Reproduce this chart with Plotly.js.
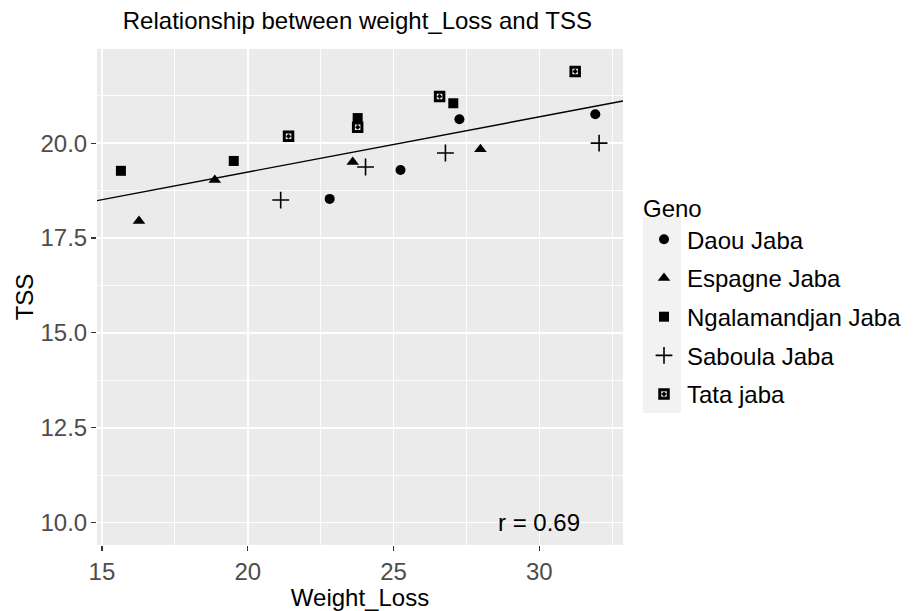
<!DOCTYPE html>
<html>
<head>
<meta charset="utf-8">
<script src="https://cdn.plot.ly/plotly-3.0.1.min.js"></script>
<style>
  html, body { margin: 0; padding: 0; background: #ffffff; }
  #chart { width: 917px; height: 611px; }
</style>
</head>
<body>
<div id="chart"></div>
<script>
// ---- data ----
const genoNames = ["Daou Jaba", "Espagne Jaba", "Ngalamandjan Jaba", "Saboula Jaba", "Tata jaba"];

const daouX = [22.81, 25.24, 27.26, 31.92];
const daouY = [18.53, 19.29, 20.63, 20.76];

const espagneX = [16.27, 18.87, 23.60, 27.98];
const espagneY = [17.95, 19.03, 19.50, 19.84];

const ngalaX = [15.65, 19.52, 23.77, 27.05];
const ngalaY = [19.27, 19.53, 20.66, 21.05];

const sabX = [21.13, 24.04, 26.78, 32.05];
const sabY = [18.50, 19.37, 19.74, 20.00];

const tataX = [21.40, 23.77, 26.58, 31.23];
const tataY = [20.18, 20.42, 21.23, 21.89];

const corrLabel = "r = 0.69";
const corrLabelX = 30;
const corrLabelY = 10;

const xRange = [14.83, 32.87];
const yRange = [9.41, 22.48];

// ---- linear fit over all points ----
const allX = [].concat(daouX, espagneX, ngalaX, sabX, tataX);
const allY = [].concat(daouY, espagneY, ngalaY, sabY, tataY);
const n = allX.length;
const mx = allX.reduce((a, b) => a + b, 0) / n;
const my = allY.reduce((a, b) => a + b, 0) / n;
let sxy = 0, sxx = 0;
for (let i = 0; i < n; i++) { sxy += (allX[i] - mx) * (allY[i] - my); sxx += (allX[i] - mx) ** 2; }
const slope = sxy / sxx;
const intercept = my - slope * mx;
const fitX = xRange.slice();
const fitY = fitX.map(v => intercept + slope * v);

const seriesX = [daouX, espagneX, ngalaX, sabX, tataX];
const seriesY = [daouY, espagneY, ngalaY, sabY, tataY];
const markerStyles = [
  {symbol: "circle", size: 10, color: "#000000"},
  {symbol: "triangle-up", size: 11, color: "#000000"},
  {symbol: "square", size: 10, color: "#000000"},
  {symbol: "cross-thin-open", size: 12, color: "#000000", line: {width: 1.6, color: "#000000"}},
  {symbol: "square-open-dot", size: 8.5, color: "#000000", line: {width: 3, color: "#000000"}}
];

const traces = [{
  x: fitX, y: fitY, type: "scatter", mode: "lines",
  line: {color: "#000000", width: 1.4}, showlegend: false, hoverinfo: "skip"
}];
genoNames.forEach((name, i) => {
  traces.push({
    x: seriesX[i], y: seriesY[i], type: "scatter", mode: "markers",
    name: name, legendgroup: name, marker: markerStyles[i]
  });
});

const FONT = "Liberation Sans, Arial, Helvetica, sans-serif";
const FS = 24;

const layout = {
  width: 917, height: 611,
  margin: {l: 97, r: 294, t: 49, b: 66},
  paper_bgcolor: "#ffffff",
  plot_bgcolor: "#EBEBEB",
  font: {family: FONT, color: "#000000"},
  title: {
    text: "Relationship between weight_Loss and TSS",
    font: {family: FONT, size: FS, color: "#000000"},
    x: 0.495, xanchor: "center", xref: "paper",
    y: 1 - 21 / 611, yanchor: "middle", yref: "container"
  },
  xaxis: {
    range: xRange, tick0: 0, dtick: 5, showgrid: true, gridcolor: "#ffffff", gridwidth: 1.6,
    zeroline: false, showline: false,
    ticks: "outside", ticklen: 5, tickwidth: 1.1, tickcolor: "#333333",
    tickfont: {family: FONT, size: FS, color: "#4D4D4D"},
    minor: {tick0: 0, dtick: 2.5, showgrid: true, gridcolor: "#ffffff", gridwidth: 0.9, ticks: ""},
    title: {text: "Weight_Loss", font: {family: FONT, size: FS, color: "#000000"}, standoff: 4},
    automargin: false
  },
  yaxis: {
    range: yRange, tick0: 0, dtick: 2.5, tickformat: ".1f", showgrid: true, gridcolor: "#ffffff", gridwidth: 1.6,
    zeroline: false, showline: false,
    ticks: "outside", ticklen: 5, tickwidth: 1.1, tickcolor: "#333333",
    ticklabelstandoff: -1,
    tickfont: {family: FONT, size: FS, color: "#4D4D4D"},
    minor: {tick0: 0, dtick: 1.25, showgrid: true, gridcolor: "#ffffff", gridwidth: 0.9, ticks: ""},
    title: {text: "TSS", font: {family: FONT, size: FS, color: "#000000"}, standoff: 0},
    automargin: false
  },
  legend: {
    title: {text: "Geno", font: {family: FONT, size: FS, color: "#000000"}},
    font: {family: FONT, size: FS, color: "#000000"},
    xref: "container", yref: "container",
    x: 641 / 917, xanchor: "left", y: 1 - 186 / 611, yanchor: "top",
    bgcolor: "rgba(0,0,0,0)", borderwidth: 0,
    itemwidth: 36,
    traceorder: "grouped", tracegroupgap: 4.5
  },
  shapes: [{
    type: "rect", xref: "paper", yref: "paper",
    x0: (643 - 97) / 526, x1: (681 - 97) / 526,
    y0: (545 - 413) / 496, y1: (545 - 217) / 496,
    fillcolor: "#F2F2F2", line: {width: 0}, layer: "below"
  }],
  annotations: [{
    x: corrLabelX, y: corrLabelY, xref: "x", yref: "y",
    text: corrLabel, showarrow: false, xanchor: "center", yanchor: "middle",
    font: {family: FONT, size: FS, color: "#000000"}
  }],
  showlegend: true
};

Plotly.newPlot("chart", traces, layout, {displayModeBar: false, staticPlot: true});
</script>
</body>
</html>
